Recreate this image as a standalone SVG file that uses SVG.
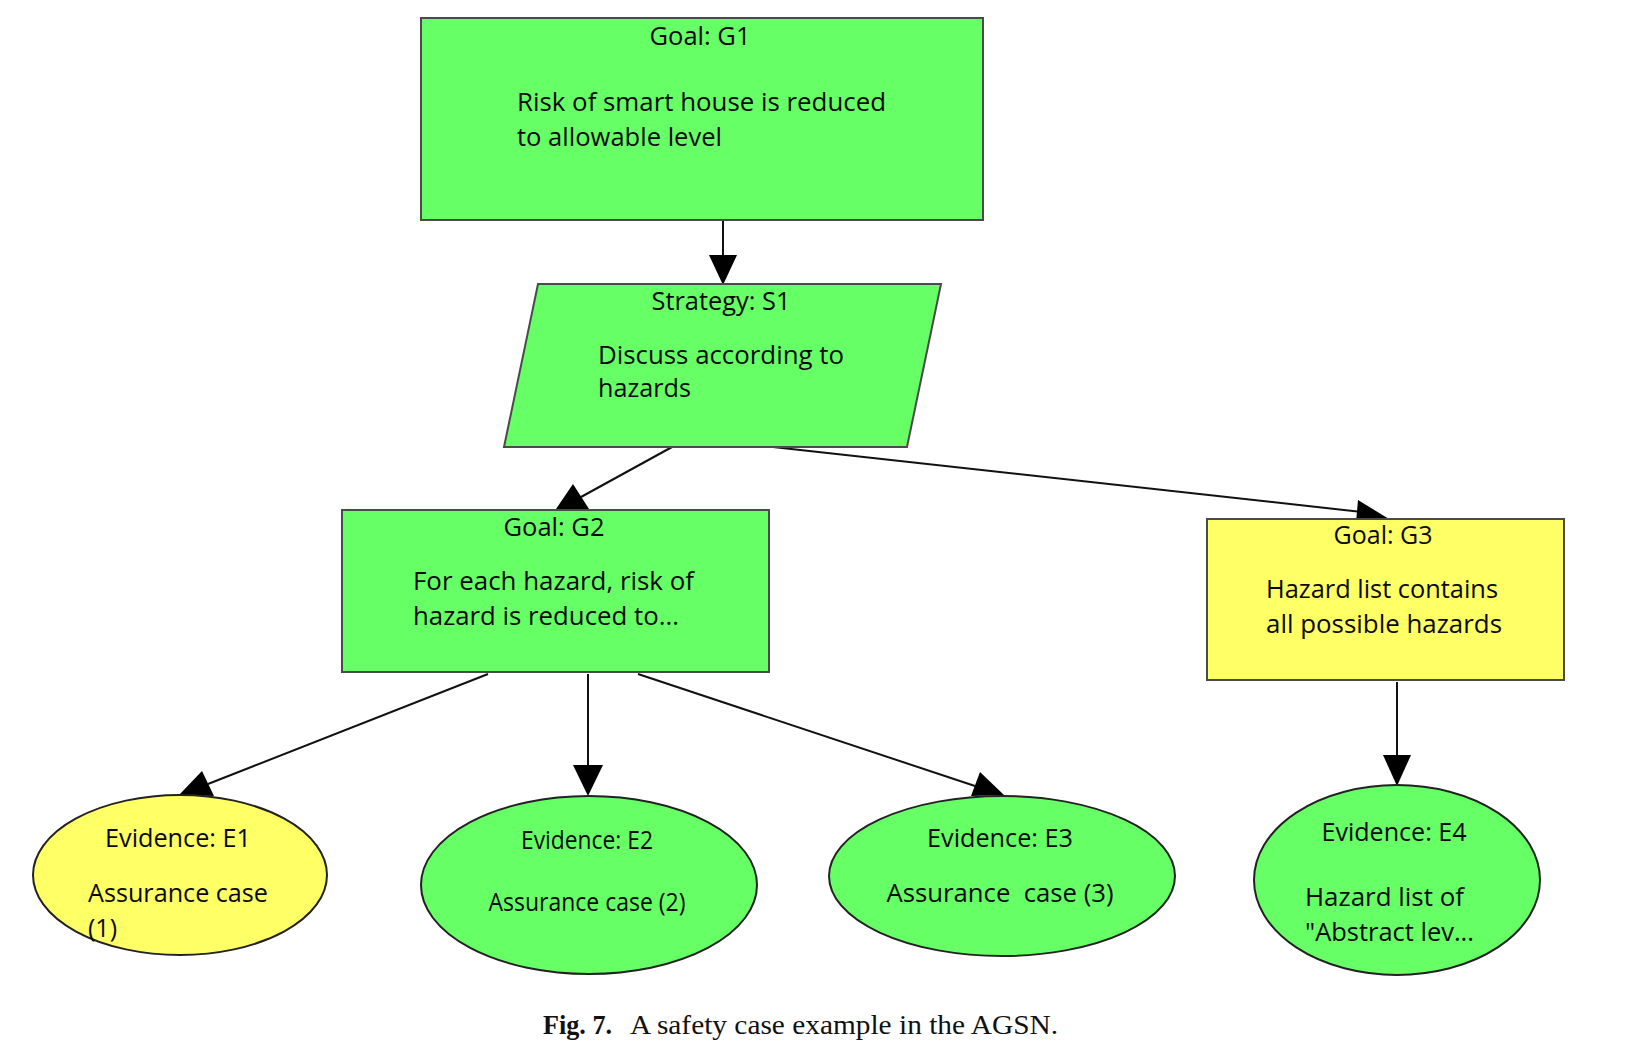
<svg xmlns="http://www.w3.org/2000/svg" width="1643" height="1054" viewBox="0 0 1643 1054">
  <style>
    .goal { fill: #66ff66; stroke: #4a4a4a; stroke-width: 2; }
    .warn { fill: #ffff66; stroke: #4a4a4a; stroke-width: 2; }
    .ev { fill: #66ff66; stroke: #222; stroke-width: 2; }
    .ev-warn { fill: #ffff66; stroke: #222; stroke-width: 2; }
    .lbl { font-family: "Open Sans", "Liberation Sans", sans-serif; font-size: 25px; fill: #0a0a0a; }
    .cen { text-anchor: middle; }
    .edge { stroke: #111; stroke-width: 2; fill: none; }
    .head { fill: #000; stroke: none; }
    .cap { font-family: "Liberation Serif", "Times New Roman", serif; font-size: 27px; fill: #111; }
  </style>

  <!-- connectors -->
  <g id="connectors">
    <!-- G1 -> S1 -->
    <line class="edge" x1="723" y1="220" x2="723" y2="258"/>
    <polygon class="head" points="709,255 737,255 723,285"/>
    <!-- S1 -> G2 -->
    <line class="edge" x1="672" y1="447" x2="581" y2="497"/>
    <polygon class="head" points="556,509 589,509 573,484"/>
    <!-- S1 -> G3 -->
    <line class="edge" x1="773" y1="447" x2="1362" y2="512"/>
    <polygon class="head" points="1358,500 1389,519 1356,523"/>
    <!-- G2 -> E1 -->
    <line class="edge" x1="488" y1="674" x2="208" y2="784"/>
    <polygon class="head" points="202,771 179,795 214,796"/>
    <!-- G2 -> E2 -->
    <line class="edge" x1="588" y1="674" x2="588" y2="767"/>
    <polygon class="head" points="573,765 603,765 588,796"/>
    <!-- G2 -> E3 -->
    <line class="edge" x1="638" y1="674" x2="978" y2="787"/>
    <polygon class="head" points="980,772 971,796 1004,795"/>
    <!-- G3 -> E4 -->
    <line class="edge" x1="1397" y1="682" x2="1397" y2="758"/>
    <polygon class="head" points="1383,755 1411,755 1397,786"/>
  </g>

  <!-- Goal G1 -->
  <g id="G1">
    <rect class="goal" x="421" y="18" width="562" height="202"/>
    <text class="lbl cen" x="700" y="45" textLength="101" lengthAdjust="spacingAndGlyphs">Goal: G1</text>
    <text class="lbl" x="517" y="111" textLength="369" lengthAdjust="spacingAndGlyphs">Risk of smart house is reduced</text>
    <text class="lbl" x="517" y="146" textLength="205" lengthAdjust="spacingAndGlyphs">to allowable level</text>
  </g>

  <!-- Strategy S1 -->
  <g id="S1">
    <polygon class="goal" points="538,284 941,284 907,447 504,447"/>
    <text class="lbl cen" x="721" y="310" textLength="139" lengthAdjust="spacingAndGlyphs">Strategy: S1</text>
    <text class="lbl" x="598" y="364" textLength="246" lengthAdjust="spacingAndGlyphs">Discuss according to</text>
    <text class="lbl" x="598" y="397" textLength="93" lengthAdjust="spacingAndGlyphs">hazards</text>
  </g>

  <!-- Goal G2 -->
  <g id="G2">
    <rect class="goal" x="342" y="510" width="427" height="162"/>
    <text class="lbl cen" x="554" y="536" textLength="101" lengthAdjust="spacingAndGlyphs">Goal: G2</text>
    <text class="lbl" x="413" y="590" textLength="281" lengthAdjust="spacingAndGlyphs">For each hazard, risk of</text>
    <text class="lbl" x="413" y="625" textLength="266" lengthAdjust="spacingAndGlyphs">hazard is reduced to...</text>
  </g>

  <!-- Goal G3 -->
  <g id="G3">
    <rect class="warn" x="1207" y="519" width="357" height="161"/>
    <text class="lbl cen" x="1383" y="544" textLength="99" lengthAdjust="spacingAndGlyphs">Goal: G3</text>
    <text class="lbl" x="1266" y="598" textLength="232" lengthAdjust="spacingAndGlyphs">Hazard list contains</text>
    <text class="lbl" x="1266" y="633" textLength="236" lengthAdjust="spacingAndGlyphs">all possible hazards</text>
  </g>

  <!-- Evidence E1 -->
  <g id="E1">
    <ellipse class="ev-warn" cx="180" cy="875" rx="147" ry="80"/>
    <text class="lbl cen" x="178" y="847" textLength="146" lengthAdjust="spacingAndGlyphs">Evidence: E1</text>
    <text class="lbl" x="88" y="902" textLength="180" lengthAdjust="spacingAndGlyphs">Assurance case</text>
    <text class="lbl" x="88" y="937" textLength="29" lengthAdjust="spacingAndGlyphs">(1)</text>
  </g>

  <!-- Evidence E2 -->
  <g id="E2">
    <ellipse class="ev" cx="589" cy="885" rx="168" ry="89"/>
    <text class="lbl cen" x="587" y="849" textLength="132" lengthAdjust="spacingAndGlyphs">Evidence: E2</text>
    <text class="lbl cen" x="587" y="911" textLength="197" lengthAdjust="spacingAndGlyphs">Assurance case (2)</text>
  </g>

  <!-- Evidence E3 -->
  <g id="E3">
    <ellipse class="ev" cx="1002" cy="876" rx="173" ry="80"/>
    <text class="lbl cen" x="1000" y="847" textLength="146" lengthAdjust="spacingAndGlyphs">Evidence: E3</text>
    <text class="lbl cen" x="1000" y="902" textLength="227" lengthAdjust="spacingAndGlyphs" xml:space="preserve" style="white-space:pre">Assurance  case (3)</text>
  </g>

  <!-- Evidence E4 -->
  <g id="E4">
    <ellipse class="ev" cx="1397" cy="880" rx="143" ry="95"/>
    <text class="lbl cen" x="1394" y="841" textLength="145" lengthAdjust="spacingAndGlyphs">Evidence: E4</text>
    <text class="lbl" x="1305" y="906" textLength="159" lengthAdjust="spacingAndGlyphs">Hazard list of</text>
    <text class="lbl" x="1305" y="941" textLength="169" lengthAdjust="spacingAndGlyphs">&quot;Abstract lev...</text>
  </g>

  <!-- caption -->
  <g id="caption">
    <text class="cap" x="543" y="1034"><tspan font-weight="bold" textLength="69" lengthAdjust="spacingAndGlyphs">Fig. 7.</tspan></text>
    <text class="cap" x="630" y="1034" textLength="428" lengthAdjust="spacingAndGlyphs">A safety case example in the AGSN.</text>
  </g>
</svg>
